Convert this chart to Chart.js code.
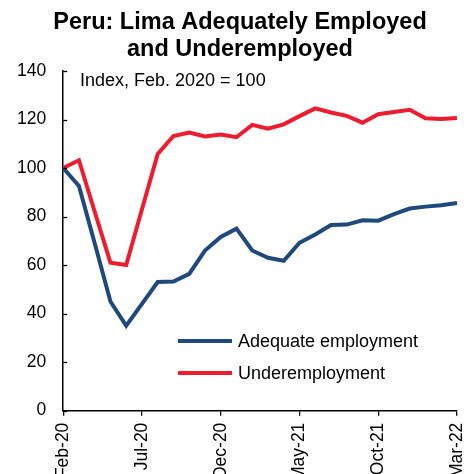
<!DOCTYPE html>
<html>
<head>
<meta charset="utf-8">
<script src="https://cdn.jsdelivr.net/npm/chart.js@4/dist/chart.umd.min.js"></script>
<style>
html,body{margin:0;padding:0;background:#fff;overflow:hidden;width:474px;height:474px;}
#wrap{position:absolute;left:0;top:0;width:485px;height:488px;}
</style>
</head>
<body>
<div id="wrap"><canvas id="c" width="485" height="488"></canvas></div>
<script>
const titleLines = ["Peru: Lima Adequately Employed", "and Underemployed"];
const noteText = "Index, Feb. 2020 = 100";
const months = ["Feb-20","Mar-20","Apr-20","May-20","Jun-20","Jul-20","Aug-20","Sep-20","Oct-20","Nov-20","Dec-20",
  "Jan-21","Feb-21","Mar-21","Apr-21","May-21","Jun-21","Jul-21","Aug-21","Sep-21","Oct-21","Nov-21","Dec-21",
  "Jan-22","Feb-22","Mar-22"];
const adequate = [100, 92.6, 69, 45, 35, 44, 53, 53.2, 56.4, 66, 71.6, 75, 66, 63, 61.8, 69.2, 72.6, 76.5, 76.7, 78.5, 78.3, 81, 83.3, 84.1, 84.7, 85.6];
const underemployment = [100, 103.2, 82, 61, 60, 83, 105.8, 113.2, 114.6, 113, 113.8, 112.7, 117.8, 116.2, 118, 121.4, 124.6, 122.9, 121.5, 118.7, 122.2, 123.1, 124, 120.5, 120.2, 120.6];
const seriesNames = ["Adequate employment", "Underemployment"];
const seriesColors = ["#1F497D", "#ED1C2E"];

const FONT = '"Liberation Sans", Arial, sans-serif';

const decor = {
  id: 'decor',
  afterDraw(chart) {
    const ctx = chart.ctx;
    const ca = chart.chartArea;
    const y = chart.scales.y;
    ctx.save();
    ctx.fillStyle = '#000';
    ctx.font = 'bold 23.5px ' + FONT;
    ctx.textAlign = 'center';
    ctx.textBaseline = 'middle';
    ctx.fillText(titleLines[0], 240, 23);
    ctx.fillText(titleLines[1], 240, 50);
    ctx.strokeStyle = '#000';
    ctx.lineWidth = 1.3;
    y.ticks.forEach(t => {
      const py = Math.round(y.getPixelForValue(t.value)) + 0.5;
      ctx.beginPath();
      ctx.moveTo(ca.left, py);
      ctx.lineTo(ca.left + 4, py);
      ctx.stroke();
    });
    ctx.font = '18px ' + FONT;
    ctx.textAlign = 'left';
    ctx.fillText(noteText, 80, 81);
    const legY = [341, 373];
    chart.data.datasets.forEach((ds, i) => {
      ctx.strokeStyle = ds.borderColor;
      ctx.lineWidth = 4;
      ctx.beginPath();
      ctx.moveTo(178, legY[i]);
      ctx.lineTo(232, legY[i]);
      ctx.stroke();
      ctx.fillStyle = '#000';
      ctx.fillText(ds.label, 238, legY[i] + 1);
    });
    ctx.restore();
  }
};

new Chart(document.getElementById('c'), {
  type: 'line',
  data: {
    labels: months,
    datasets: [
      { label: seriesNames[0], data: adequate, borderColor: seriesColors[0], backgroundColor: seriesColors[0], borderWidth: 4, pointRadius: 0, tension: 0 },
      { label: seriesNames[1], data: underemployment, borderColor: seriesColors[1], backgroundColor: seriesColors[1], borderWidth: 4, pointRadius: 0, tension: 0 }
    ]
  },
  options: {
    responsive: false,
    animation: false,
    devicePixelRatio: 1,
    layout: { padding: { top: 71, right: 7, left: 8, bottom: 0 } },
    plugins: { legend: { display: false }, title: { display: false }, tooltip: { enabled: false } },
    scales: {
      x: {
        offset: false,
        grid: { display: true, drawOnChartArea: false, drawTicks: true, tickLength: 5, color: '#000', lineWidth: 1.3 },
        border: { display: true, color: '#000', width: 1.5 },
        ticks: {
          autoSkip: false, maxRotation: 90, minRotation: 90, padding: 7,
          color: '#000', font: { family: FONT, size: 17.5 },
          callback: function(v, i) { return i % 5 === 0 ? months[i] : null; }
        }
      },
      y: {
        min: 0, max: 140,
        grid: { display: false },
        border: { display: true, color: '#000', width: 1.5 },
        ticks: { stepSize: 20, padding: 9, color: '#000', font: { family: FONT, size: 17.5 } }
      }
    }
  },
  plugins: [decor]
});
</script>
</body>
</html>
